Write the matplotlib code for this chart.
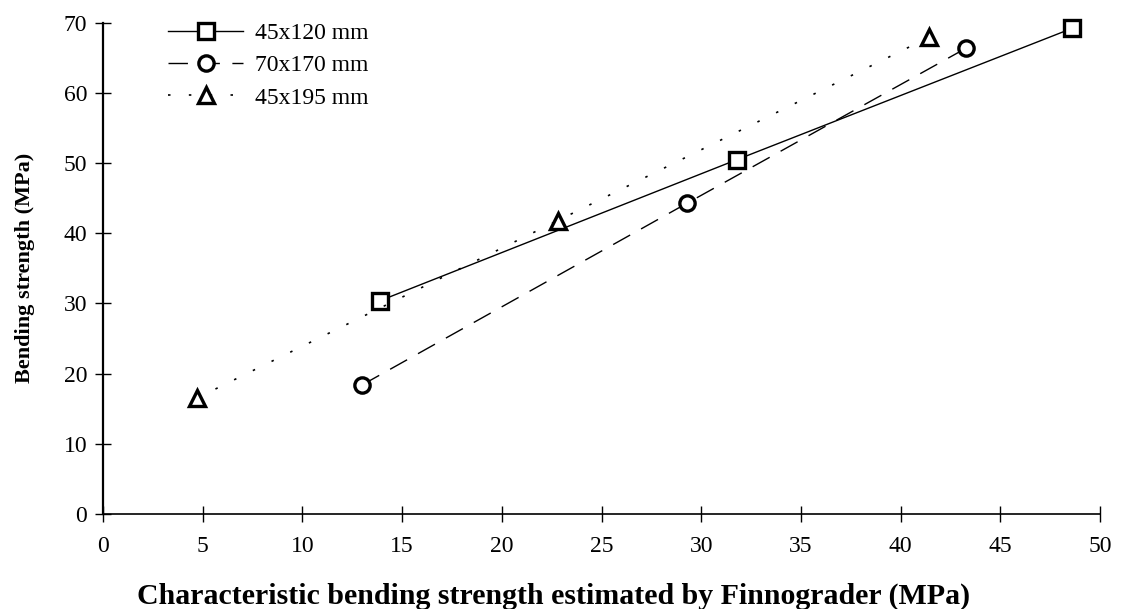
import matplotlib.pyplot as plt
import numpy as np

plt.rcParams['font.family'] = ['Liberation Serif', 'DejaVu Serif']

# data
x_45x120 = [13.9, 31.8, 48.6]
y_45x120 = [30.4, 50.5, 69.2]
x_70x170 = [13.0, 29.3, 43.3]
y_70x170 = [18.4, 44.3, 66.4]
x_45x195 = [4.7, 22.8, 41.4]
y_45x195 = [16.5, 41.8, 67.9]
labels = ["45x120 mm", "70x170 mm", "45x195 mm"]
xticks = np.arange(0, 55, 5)
yticks = np.arange(0, 80, 10)

fig = plt.figure(figsize=(11.21, 6.09), dpi=100)
ax = fig.add_axes([0.0919, 0.156, 0.8894, 0.8067])

mk = dict(markersize=11, markeredgewidth=2.4, markerfacecolor="white",
          markeredgecolor="black", color="black", clip_on=False)
ax.plot(x_45x120, y_45x120, "-", marker="s", lw=1.0, label=labels[0], **mk)
ax.plot(x_70x170, y_70x170, marker="o", lw=1.0, dashes=(14, 9), label=labels[1], **mk)
ax.plot(x_45x195, y_45x195, marker="^", lw=1.2, dashes=(1.5, 11), label=labels[2], **mk)

ax.set_xlim(0, 50)
ax.set_ylim(0, 70)
ax.set_xticks(xticks)
ax.set_yticks(yticks)
ax.tick_params(direction="inout", length=11, width=1.0, labelsize=17)
ax.tick_params(axis="x", pad=10)
ax.tick_params(axis="y", pad=6)
for s in ["top", "right"]:
    ax.spines[s].set_visible(False)
ax.spines["bottom"].set_linewidth(1.2)
ax.spines["left"].set_linewidth(1.6)

ax.set_xlabel("Characteristic bending strength estimated by Finnograder (MPa)",
              fontsize=21.5, fontweight="bold")
ax.xaxis.set_label_coords(0.452, -0.14)
ax.set_ylabel("Bending strength (MPa)", fontsize=16, fontweight="bold")
ax.yaxis.set_label_coords(-0.068, 0.5)

leg = ax.legend(loc="upper left", bbox_to_anchor=(0.065, 1.0), frameon=False,
                fontsize=17, handlelength=3.2, handletextpad=0.5,
                labelspacing=0.45, borderpad=0, borderaxespad=0)

fig.savefig("out.png", dpi=100)
